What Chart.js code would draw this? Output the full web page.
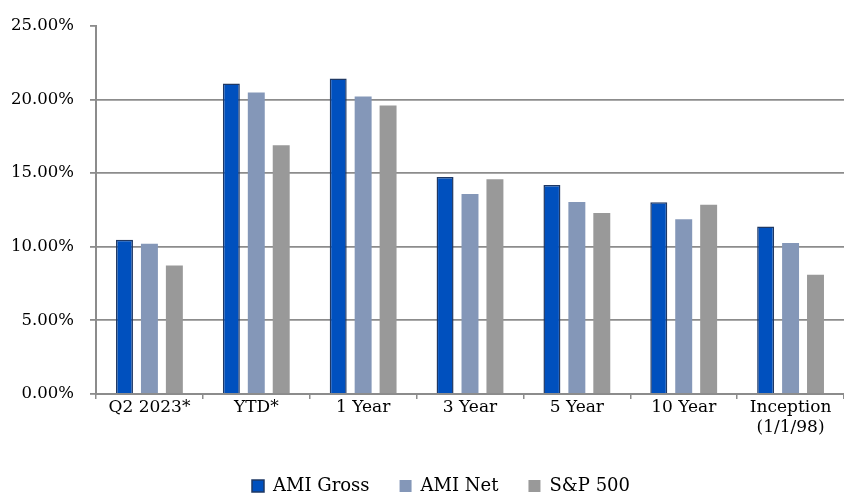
<!DOCTYPE html>
<html>
<head>
<meta charset="utf-8">
<script src="https://cdn.jsdelivr.net/npm/chart.js@4"></script>
<style>
  html, body { margin: 0; padding: 0; background: #fff; }
  #wrap { width: 844px; height: 493px; }
</style>
</head>
<body>
<div id="wrap"><canvas id="barChart"></canvas></div>
<script>
// data
const categories = ['Q2 2023*', 'YTD*', '1 Year', '3 Year', '5 Year', '10 Year', ['Inception', '(1/1/98)']];
const amiGross = [10.47, 21.08, 21.42, 14.73, 14.19, 13.02, 11.37];
const amiNet   = [10.20, 20.47, 20.20, 13.58, 13.04, 11.87, 10.25];
const sp500    = [8.72, 16.89, 19.59, 14.59, 12.30, 12.86, 8.10];
const yTicks   = [0, 5, 10, 15, 20, 25];

const FONT = "'DejaVu Serif', 'Liberation Serif', serif";
const AXIS = '#8c8c8c';

// nudge the legend a bit right so it sits under the plot, like the original
const legendShift = {
  id: 'legendShift',
  afterLayout(chart) {
    if (chart.legend) {
      chart.legend.left += 17;
      chart.legend.right += 17;
    }
  }
};

new Chart(document.getElementById('barChart'), {
  type: 'bar',
  data: {
    labels: categories,
    datasets: [
      { label: 'AMI Gross', data: amiGross, backgroundColor: '#0050BE', borderColor: '#1F3864', borderWidth: 1.5 },
      { label: 'AMI Net', data: amiNet, backgroundColor: '#8497B8', borderWidth: 0 },
      { label: 'S&P 500', data: sp500, backgroundColor: '#999999', borderWidth: 0 }
    ]
  },
  plugins: [legendShift],
  options: {
    responsive: true,
    maintainAspectRatio: false,
    animation: false,
    categoryPercentage: 0.7,
    barPercentage: 0.68,
    layout: { padding: { left: 4, right: 0, top: 19, bottom: -12 } },
    plugins: {
      tooltip: { enabled: false },
      legend: {
        position: 'bottom',
        labels: {
          font: { family: FONT, size: 18 },
          color: '#000',
          boxWidth: 12,
          boxHeight: 12,
          padding: 30
        }
      }
    },
    scales: {
      x: {
        grid: {
          offset: true,
          drawOnChartArea: false,
          drawTicks: true,
          tickLength: 5,
          color: AXIS,
          lineWidth: 1.5
        },
        border: { color: AXIS, width: 2 },
        ticks: {
          font: { family: FONT, size: 17, lineHeight: 1.2 },
          color: '#000',
          maxRotation: 0,
          padding: -2
        },
        afterFit: s => { s.height = 53; }
      },
      y: {
        min: 0,
        max: 25,
        afterBuildTicks: s => { s.ticks = yTicks.map(v => ({ value: v })); },
        grid: {
          color: ctx => (ctx.tick && ctx.tick.value === 25 ? 'rgba(0,0,0,0)' : AXIS),
          tickColor: AXIS,
          lineWidth: 1.8,
          tickLength: 6
        },
        border: { color: AXIS, width: 2 },
        ticks: {
          font: { family: FONT, size: 16.5 },
          color: '#000',
          padding: 16,
          callback: v => v.toFixed(2) + '%'
        },
        afterFit: s => { s.width = 92; }
      }
    }
  }
});
</script>
</body>
</html>
